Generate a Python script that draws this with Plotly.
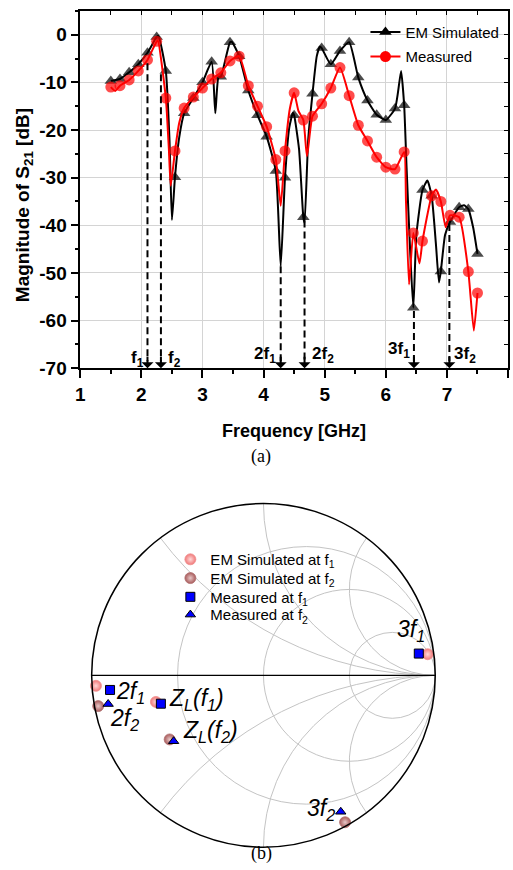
import plotly.graph_objects as go

W, H = 513, 870

# ---------------- data: S21 magnitude (dB) ----------------
em_freq = [1.50, 1.65, 1.80, 1.95, 2.10, 2.25, 2.28, 2.40, 2.46, 2.50, 2.55, 2.62, 2.70, 2.85,
           3.00, 3.15, 3.21, 3.26, 3.30, 3.45, 3.48, 3.60, 3.75, 3.90, 4.05, 4.20, 4.28, 4.35,
           4.42, 4.48, 4.50, 4.58, 4.65, 4.67, 4.73, 4.80, 4.87, 4.92, 4.95, 5.10, 5.25, 5.40,
           5.55, 5.70, 5.85, 6.00, 6.15, 6.20, 6.25, 6.30, 6.34, 6.40, 6.45, 6.50, 6.60, 6.68,
           6.75, 6.82, 6.87, 6.90, 6.97, 7.05, 7.20, 7.28, 7.35, 7.43, 7.50]
em_db = [-9.7, -9.3, -7.9, -6.2, -3.8, -0.5, -0.3, -7.6, -22.0, -38.9, -29.9, -21.5, -16.5, -13.3,
         -10.0, -5.7, -16.5, -9.0, -8.8, -1.6, -1.5, -4.5, -11.7, -16.9, -21.4, -28.6, -48.6, -30.0,
         -19.5, -16.4, -16.9, -24.0, -38.3, -39.5, -22.0, -12.4, -4.5, -2.5, -2.8, -6.2, -3.4, -1.6,
         -9.0, -13.8, -16.8, -17.9, -15.5, -12.0, -7.6, -14.8, -28.0, -46.0, -57.3, -42.0, -32.6, -30.6,
         -33.8, -44.0, -52.0, -49.7, -42.0, -39.3, -36.2, -35.8, -36.6, -40.5, -46.0]
em_marker = [1, 1, 1, 1, 1, 1, 0, 1, 0, 0, 1, 0, 1, 1,
             1, 1, 0, 0, 1, 1, 0, 1, 1, 1, 1, 1, 0, 1,
             0, 0, 1, 0, 1, 0, 0, 1, 0, 0, 1, 1, 1, 1,
             1, 1, 1, 1, 1, 0, 0, 1, 0, 0, 1, 0, 1, 0,
             1, 0, 0, 1, 0, 1, 1, 0, 1, 0, 1]

meas_freq = [1.50, 1.57, 1.65, 1.80, 1.95, 2.10, 2.25, 2.27, 2.40, 2.45, 2.48, 2.55, 2.62, 2.70,
             2.85, 3.00, 3.15, 3.30, 3.45, 3.60, 3.75, 3.90, 4.05, 4.20, 4.28, 4.35, 4.43, 4.50,
             4.57, 4.65, 4.71, 4.80, 4.95, 5.10, 5.25, 5.40, 5.55, 5.70, 5.85, 6.00, 6.15, 6.30,
             6.33, 6.38, 6.45, 6.55, 6.60, 6.75, 6.82, 6.90, 6.98, 7.05, 7.20, 7.35, 7.44, 7.50]
meas_db = [-11.0, -11.8, -10.7, -9.5, -7.6, -5.3, -1.4, -1.2, -13.3, -24.0, -31.7, -24.4, -18.5, -15.4,
           -13.1, -11.2, -9.3, -8.0, -5.5, -4.5, -10.7, -15.0, -19.3, -26.2, -35.9, -24.4, -15.5, -12.2,
           -16.0, -17.9, -25.5, -17.1, -14.5, -11.2, -6.9, -12.8, -19.0, -22.3, -25.7, -27.8, -28.2, -24.6,
           -35.0, -52.4, -41.6, -48.0, -43.3, -33.8, -32.5, -35.0, -40.4, -37.9, -38.3, -49.7, -62.1, -54.2]
meas_marker = [1, 0, 1, 1, 1, 1, 1, 0, 1, 0, 0, 1, 0, 1,
               1, 1, 1, 1, 1, 1, 1, 1, 1, 1, 0, 1, 0, 1,
               0, 1, 0, 1, 1, 1, 1, 1, 1, 1, 1, 1, 1, 1,
               0, 0, 1, 0, 1, 1, 0, 1, 0, 1, 1, 1, 0, 1]

# harmonic markers (dashed arrows)
arrow_freq = [2.10, 2.32, 4.28, 4.67, 6.46, 7.04]
arrow_start_db = [-6.0, -8.3, -48.6, -39.0, -58.0, -39.7]
arrow_label = ["f<sub>1</sub>", "f<sub>2</sub>", "2f<sub>1</sub>", "2f<sub>2</sub>",
               "3f<sub>1</sub>", "3f<sub>2</sub>"]
label_freq = [1.93, 2.54, 4.03, 4.97, 6.21, 7.30]
label_db = [-68.1, -68.1, -67.3, -67.3, -66.2, -67.3]

x_tickvals = [1, 2, 3, 4, 5, 6, 7, 8]
y_tickvals = [0, -10, -20, -30, -40, -50, -60, -70]
y_ticktext = ["0", "-10", "-20", "-30", "-40", "-50", "-60", "-70"]

# ---------------- data: Smith chart (normalized impedance) ----------------
smith_names = ["EM Simulated at f<sub>1</sub>", "EM Simulated at f<sub>2</sub>",
               "Measured at f<sub>1</sub>", "Measured at f<sub>2</sub>"]
emf1_real = [0.0117, 0.219, 4.16]
emf1_imag = [-0.0312, -0.116, 14.41]
emf2_real = [0.011, 0.2225, 0.043]
emf2_imag = [-0.0922, -0.295, -1.699]
measf1_real = [0.0544, 0.239, 6.59]
measf1_imag = [-0.0473, -0.128, 10.04]
measf2_real = [0.0424, 0.235, 0.179]
measf2_imag = [-0.0914, -0.311, -1.702]

smith_r_grid = [1 / 3, 1, 3]
smith_x_grid = [-2, -1, -0.5, 0.5, 1, 2]

smith_labels = ["<i>3f<sub>1</sub></i>", "<i>2f<sub>1</sub></i>", "<i>2f<sub>2</sub></i>",
                "<i>Z<sub>L</sub>(f<sub>1</sub>)</i>", "<i>Z<sub>L</sub>(f<sub>2</sub>)</i>",
                "<i>3f<sub>2</sub></i>"]
smith_label_px = [(410, 639), (127, 701), (121, 729), (193, 708), (208, 741), (319, 820)]

FONT = "Liberation Sans, Arial, sans-serif"
SERIF = "Liberation Serif, Times New Roman, serif"

fig = go.Figure()

# ---------- top plot ----------
fig.add_trace(go.Scatter(
    x=em_freq, y=em_db, mode="lines+markers", showlegend=False,
    line=dict(color="black", width=2, shape="spline", smoothing=0.5),
    marker=dict(symbol="triangle-up", color="black",
                size=[11 if m else 0 for m in em_marker], line=dict(width=0)),
))
fig.add_trace(go.Scatter(
    x=meas_freq, y=meas_db, mode="lines+markers", showlegend=False,
    line=dict(color="#ff0000", width=2, shape="spline", smoothing=0.5),
    marker=dict(symbol="circle", color="#ff0000",
                size=[11 if m else 0 for m in meas_marker], line=dict(width=0)),
))
# legend entries
fig.add_trace(go.Scatter(x=[None], y=[None], mode="lines+markers", name="EM Simulated",
                         legendgroup="a", line=dict(color="black", width=2),
                         marker=dict(symbol="triangle-up", color="black", size=11)))
fig.add_trace(go.Scatter(x=[None], y=[None], mode="lines+markers", name="Measured",
                         legendgroup="b", line=dict(color="#ff0000", width=2),
                         marker=dict(symbol="circle", color="#ff0000", size=11)))
# helper trace for mirrored inner ticks
fig.add_trace(go.Scatter(x=[None], y=[None], xaxis="x2", yaxis="y2", showlegend=False,
                         hoverinfo="skip"))

shapes = []
annotations = []
for f, y0, lab, lf, ld in zip(arrow_freq, arrow_start_db, arrow_label, label_freq, label_db):
    shapes.append(dict(type="line", xref="x", yref="y", x0=f, x1=f, y0=y0, y1=-68.5,
                       line=dict(color="black", width=2, dash="7px,4px")))
    annotations.append(dict(x=f, y=-70, xref="x", yref="y", ax=0, ay=-13, text="",
                            showarrow=True, arrowhead=1, arrowsize=1, arrowwidth=2,
                            arrowcolor="black"))
    annotations.append(dict(x=lf, y=ld, xref="x", yref="y", text=lab, showarrow=False,
                            xanchor="center", yanchor="middle",
                            font=dict(family=FONT, size=17, color="black", weight="bold")))


def paper_text(px, py, text, font, angle=0):
    return dict(x=px / W, y=1 - py / H, xref="paper", yref="paper", text=text,
                showarrow=False, xanchor="center", yanchor="middle", textangle=angle,
                font=font)


# axis titles and captions
annotations.append(paper_text(291.5, 437, "Frequency [GHz]",
                              dict(family=FONT, size=18, color="black", weight="bold")))
annotations.append(paper_text(20, 208, "Magnitude of S<sub>21</sub> [dB]",
                              dict(family=FONT, size=19, color="black", weight="bold"), -90))
annotations.append(paper_text(258.5, 462, "(a)", dict(family=SERIF, size=18, color="black")))
annotations.append(paper_text(258.7, 864, "(b)", dict(family=SERIF, size=18, color="black")))

# ---------- Smith chart ----------
smith_sets = [
    (emf1_real, emf1_imag, dict(symbol="circle", size=11, color="#f07878",
                                gradient=dict(type="radial", color="#ffd8d8"),
                                line=dict(width=0.8, color="#f09090"))),
    (emf2_real, emf2_imag, dict(symbol="circle", size=11, color="#a85a5a",
                                gradient=dict(type="radial", color="#e8c8c8"),
                                line=dict(width=0.8, color="#b07070"))),
    (measf1_real, measf1_imag, dict(symbol="square", size=9, color="#0000ff",
                                    line=dict(width=1, color="black"))),
    (measf2_real, measf2_imag, dict(symbol="triangle-up", size=9, color="#0000ff",
                                    line=dict(width=1, color="black"))),
]
legend_rows_px = [559, 578, 597, 615]
legend_defs = {}
for i, ((re_, im_, mk), name, row) in enumerate(zip(smith_sets, smith_names, legend_rows_px)):
    lname = "legend%d" % (i + 2)
    fig.add_trace(go.Scattersmith(real=re_, imag=im_, mode="markers", name=name,
                                  legend=lname, marker=mk))
    legend_defs[lname] = dict(x=167 / W, y=1 - (row - 9) / H, xanchor="left", yanchor="top",
                              bgcolor="rgba(0,0,0,0)",
                              font=dict(family=FONT, size=15, color="black"))

for lab, (px, py) in zip(smith_labels, smith_label_px):
    annotations.append(paper_text(px, py, lab, dict(family=FONT, size=23, color="black")))

cx, cy, rad = 261, 684, 174

axis_common = dict(showline=True, linecolor="black", linewidth=1.5, mirror=False,
                   ticks="outside", ticklen=8, tickwidth=1.5, tickcolor="black",
                   showgrid=True, gridcolor="#d4d4d4", gridwidth=1, zeroline=False,
                   tickfont=dict(family=FONT, size=19, color="black", weight="bold"))

fig.update_layout(
    width=W, height=H, autosize=False,
    margin=dict(l=0, r=0, t=0, b=0),
    paper_bgcolor="white", plot_bgcolor="white",
    xaxis=dict(domain=[76 / W, 508 / W], range=[1, 8], tickvals=x_tickvals, anchor="y",
               minor=dict(ticks="outside", ticklen=4, tickwidth=1.5, tickcolor="black",
                          dtick=0.5, showgrid=False),
               **axis_common),
    yaxis=dict(domain=[1 - 373 / H, 1 - 11 / H], range=[-70, 5], tickvals=y_tickvals,
               ticktext=y_ticktext, anchor="x",
               minor=dict(ticks="outside", ticklen=4, tickwidth=1.5, tickcolor="black",
                          dtick=5, showgrid=False),
               **axis_common),
    xaxis2=dict(domain=[76 / W, 508 / W], range=[1, 8], overlaying="x", side="top", anchor="y2",
                showline=True, linecolor="black", linewidth=1.5, ticks="inside", ticklen=4,
                tickwidth=1.2, tickcolor="black", dtick=0.5, showticklabels=False,
                showgrid=False, zeroline=False),
    yaxis2=dict(domain=[1 - 373 / H, 1 - 11 / H], range=[-70, 5], overlaying="y", side="right",
                anchor="x2", showline=True, linecolor="black", linewidth=1.5, ticks="inside",
                ticklen=4, tickwidth=1.2, tickcolor="black", dtick=5, showticklabels=False,
                showgrid=False, zeroline=False),
    legend=dict(x=364 / W, y=1 - 16 / H, xanchor="left", yanchor="top",
                bgcolor="rgba(0,0,0,0)", traceorder="grouped", tracegroupgap=2,
                font=dict(family=FONT, size=15, color="black")),
    smith=dict(
        domain=dict(x=[(cx - rad) / W, (cx + rad) / W], y=[1 - (cy + rad) / H, 1 - (cy - rad) / H]),
        bgcolor="white",
        realaxis=dict(tickvals=smith_r_grid, showticklabels=False, ticks="",
                      showline=True, linecolor="black", linewidth=1.2,
                      gridcolor="#c4c4c4", gridwidth=1),
        imaginaryaxis=dict(tickvals=smith_x_grid, showticklabels=False, ticks="",
                           showline=True, linecolor="black", linewidth=1.5,
                           gridcolor="#c4c4c4", gridwidth=1),
    ),
    shapes=shapes,
    annotations=annotations,
    **legend_defs,
)

fig.write_html("out.html")
